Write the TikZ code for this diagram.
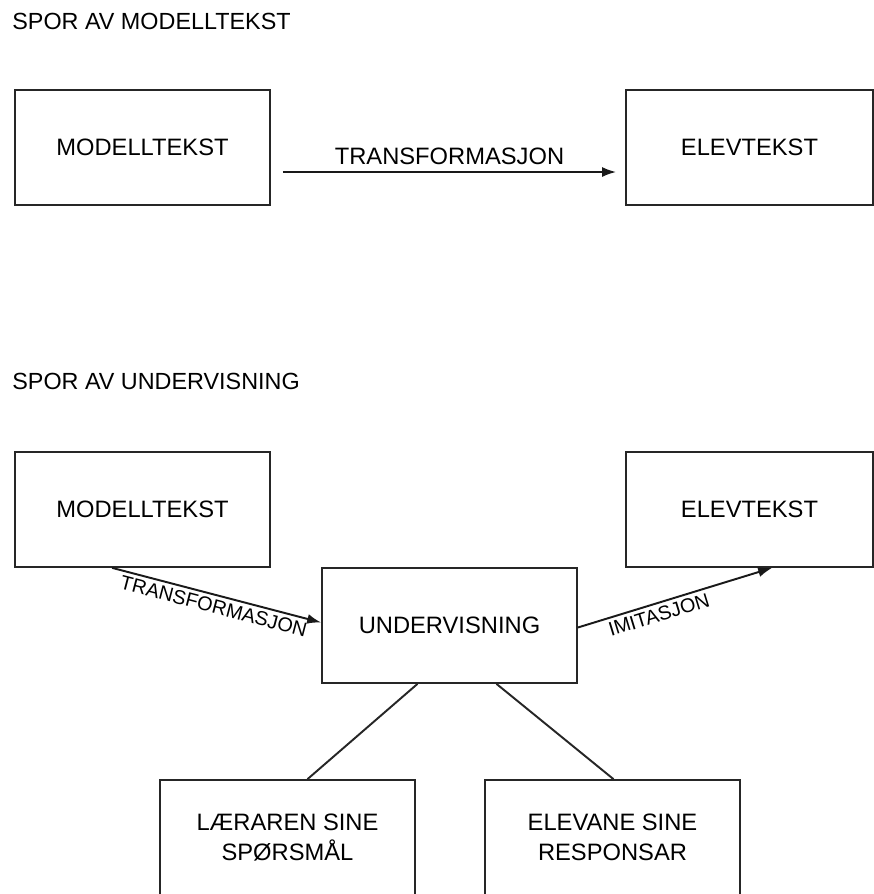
\documentclass[tikz,border=0pt]{standalone}
\usepackage{fontspec}
\setmainfont{Liberation Sans}
\usetikzlibrary{arrows.meta}
\begin{document}
\begin{tikzpicture}
			[x=0.02cm,y=-0.02cm,
			box/.style={rectangle,draw=black!85,line width=1pt,minimum width=5.1cm,minimum height=2.3cm,align=center,font=\fontsize{13.5}{17}\selectfont},
			title/.style={anchor=west,inner sep=0pt,font=\fontsize{13.3}{15}\selectfont},
			lbl/.style={font=\fontsize{11.3}{13}\selectfont,inner sep=2pt},
			arr/.style={->,line width=1.1pt,draw=black!90},>={Latex[length=0.28cm,width=0.2cm]}]
			\useasboundingbox(0,0)rectangle(874,894);
			\clip(0,0)rectangle(874,894);
			% spor av modelltekst
			\node[title,name=t1]at(12,21){SPOR AV MODELLTEKST};
			\node[box,name=mt1]at(142.5,147.5){MODELLTEKST};
			\node[box,name=et1,minimum width=4.94cm]at(749.5,147.5){ELEVTEKST};
			\draw[arr]([shift={(12,24.5)}]mt1.east)--node[midway,above,font=\fontsize{13.5}{16}\selectfont]{TRANSFORMASJON}([shift={(-9,24.5)}]et1.west);
			% spor av undervisning
			\node[title,name=t2]at(12,381){SPOR AV UNDERVISNING};
			\node[box,name=mt2]at(142.5,509.5){MODELLTEKST};
			\node[box,name=et2,minimum width=4.94cm]at(749.5,509.5){ELEVTEKST};
			\node[box,name=u]at(449.5,625.5){UNDERVISNING};
			\node[box,name=lq]at(287.5,837.5){LÆRAREN SINE\\SPØRSMÅL};
			\node[box,name=er]at(612.5,837.5){ELEVANE SINE\\RESPONSAR};
			\draw[arr]([shift={(98,0)}]mt2.south west)--node[midway,below,sloped,lbl]{TRANSFORMASJON}([shift={(0,-3)}]u.west);
			\draw[arr]([shift={(0,2)}]u.east)--node[pos=0.4,below,sloped,lbl]{IMITASJON}([shift={(147,0)}]et2.south west);
			\draw[line width=1.1pt,black!85]([shift={(-32,0)}]u.south)--([shift={(20,0)}]lq.north);
			\draw[line width=1.1pt,black!85]([shift={(47,0)}]u.south)--([shift={(1,0)}]er.north);
		\end{tikzpicture}
\end{document}
